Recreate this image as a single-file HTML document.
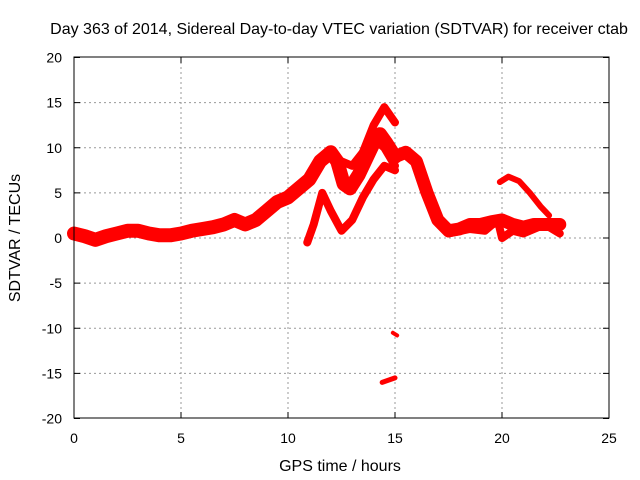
<!DOCTYPE html>
<html><head><meta charset="utf-8"><style>
body{margin:0;background:#fff}
svg{display:block;font-family:"Liberation Sans",sans-serif}
</style></head><body>
<svg id="chart" width="640" height="480">
<text x="339" y="34" font-size="16" text-anchor="middle">Day 363 of 2014, Sidereal Day-to-day VTEC variation (SDTVAR) for receiver ctab</text>
<g id="grid"></g>
<g id="ticks"></g>
<g id="series"></g>
<rect x="74" y="57" width="535" height="361" fill="none" stroke="#000"/>
<text x="340" y="471" font-size="16" text-anchor="middle">GPS time / hours</text>
<text transform="translate(20,238) rotate(-90)" font-size="16" text-anchor="middle">SDTVAR / TECUs</text>
</svg>
<script>
const xTicks=[0,5,10,15,20,25];
const yTicks=[-20,-15,-10,-5,0,5,10,15,20];
const trackA=[[0,0.5],[0.5,0.2],[1,-0.2],[1.5,0.2],[2,0.5],[2.5,0.8],[3,0.8],[3.5,0.5],[4,0.3],[4.5,0.3],[5,0.5],[5.5,0.8],[6,1.0],[6.5,1.2],[7,1.5],[7.5,2.0],[8,1.5],[8.5,2.0],[9,3.0],[9.5,4.0],[10,4.5],[10.5,5.5],[11,6.5],[11.5,8.5],[12,9.5],[12.3,8.5],[12.6,6],[12.9,5.5],[13.3,7],[13.7,9],[14,10.5],[14.3,11.5],[14.6,10.5],[15,9]];
const trackB=[[10.9,-0.5],[11.2,1.5],[11.6,5],[12,3],[12.5,0.8],[13,2],[13.5,4.5],[14,6.5],[14.5,8],[15,7.5]];
const trackC=[[13.5,9.5],[14,12.5],[14.5,14.5],[15,12.8]];
const trackD=[[12.5,8.5],[13,8],[13.5,9.5],[14,11],[14.5,10],[15,8]];
const trackE=[[15,9],[15.5,9.5],[16,8.5],[16.5,5],[17,2],[17.5,0.8],[18,1],[18.5,1.5],[19,1.5],[19.5,1.8],[20,2],[20.5,1.5],[21,1.2],[21.5,1.5],[22,1.5],[22.7,1.5]];
const trackF=[[17.5,0.5],[18.5,1],[19.2,0.8],[19.8,2],[20,0],[20.5,0.8],[21,0.5],[22,1.5],[22.7,0.5]];
const trackG=[[19.9,6.2],[20.3,6.8],[20.8,6.3],[21.3,5],[21.8,3.5],[22.2,2.5]];
const trackH=[[14.4,-16],[15,-15.5]];
const trackI=[[14.9,-10.5],[15.1,-10.8]];
const widths=[14,8,8,8,13,8,6,5,4];
const NS="http://www.w3.org/2000/svg";
const X=h=>74+h*21.4, Y=v=>238-v*9.025;
const grid=document.getElementById('grid'),ticks=document.getElementById('ticks'),ser=document.getElementById('series');
function mk(tag,attrs,parent){const e=document.createElementNS(NS,tag);for(const k in attrs)e.setAttribute(k,attrs[k]);parent.appendChild(e);return e;}
xTicks.forEach(t=>{
 if(t>0&&t<25){const l=mk('line',{x1:X(t),x2:X(t),y1:57,y2:418,stroke:'#999','stroke-dasharray':'2,3'},grid);}
 const tx=mk('text',{x:X(t),y:443,'font-size':14,'text-anchor':'middle'},ticks);tx.textContent=t;
 
 
 mk('line',{x1:X(t),x2:X(t),y1:418,y2:412,stroke:'#000'},ticks);mk('line',{x1:X(t),x2:X(t),y1:57,y2:63,stroke:'#000'},ticks);
});
yTicks.forEach(t=>{
 if(t>-20&&t<20){const l=mk('line',{x1:74,x2:609,y1:Y(t),y2:Y(t),stroke:'#999','stroke-dasharray':'2,3'},grid);}
 const tx=mk('text',{x:62,y:Y(t)+5,'font-size':14,'text-anchor':'end'},ticks);tx.textContent=t;
 
 
 mk('line',{x1:74,x2:80,y1:Y(t),y2:Y(t),stroke:'#000'},ticks);mk('line',{x1:609,x2:603,y1:Y(t),y2:Y(t),stroke:'#000'},ticks);
});
[trackA,trackB,trackC,trackD,trackE,trackF,trackG,trackH,trackI].forEach((tr,i)=>{
 const p=mk('polyline',{points:tr.map(d=>X(d[0])+','+Y(d[1])).join(' '),fill:'none',stroke:'#f00','stroke-width':widths[i],'stroke-linejoin':'round','stroke-linecap':'round'},ser);
 
 
});
</script>
</body></html>
